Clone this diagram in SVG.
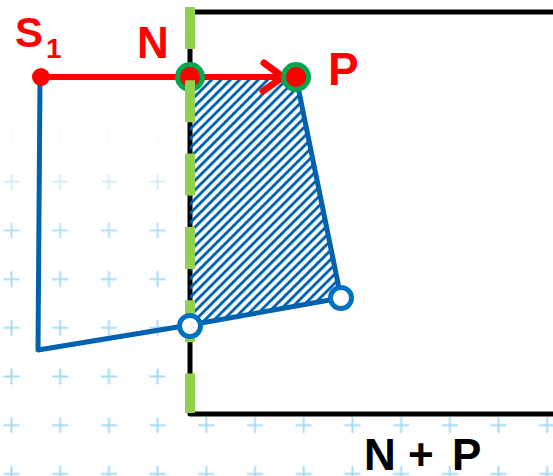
<svg xmlns="http://www.w3.org/2000/svg" width="553" height="476" viewBox="0 0 553 476">
<style>
.lbl{font-family:"Liberation Sans",Arial,sans-serif;font-weight:bold}
.red{fill:#FF0000}
.blue{fill:none;stroke:#0062AE;stroke-width:5;stroke-linejoin:round}
.open{fill:#FFFFFF;stroke:#0070C0;stroke-width:5}
.pt{fill:#FF0000;stroke:#00A650;stroke-width:5}
</style>
<defs>
<pattern id="grid" patternUnits="userSpaceOnUse" x="-12.85" y="108.65" width="48.7" height="48.7">
<path d="M16.35 24.35H32.35M24.35 16.35V32.35" stroke="#A6DBF5" stroke-width="2"/>
</pattern>
<linearGradient id="fade" gradientUnits="userSpaceOnUse" x1="0" y1="120" x2="0" y2="250">
<stop offset="0" stop-color="#fff" stop-opacity="0"/>
<stop offset="1" stop-color="#fff" stop-opacity="1"/>
</linearGradient>
<mask id="m" maskUnits="userSpaceOnUse" x="0" y="0" width="553" height="476">
<rect width="553" height="476" fill="url(#fade)"/>
</mask>
<pattern id="hatch" patternUnits="userSpaceOnUse" width="6.6" height="6.6" patternTransform="rotate(45)">
<line x1="1.5" y1="0" x2="1.5" y2="6.6" stroke="#0062AE" stroke-width="2.9"/>
</pattern>
</defs>
<rect width="553" height="476" fill="#FFFFFF"/>
<rect width="553" height="476" fill="url(#grid)" mask="url(#m)"/>
<g id="region">
<rect x="190" y="12" width="380" height="402" fill="#FFFFFF" stroke="#000000" stroke-width="5" stroke-linejoin="round"/>
</g>
<g id="hatched">
<polygon points="190,77 296,77 341,298 190,325" fill="url(#hatch)"/>
</g>
<g id="connectors">
<path class="blue" d="M40 77L38 350L190 325L341 298L296 77"/>
<line x1="40" y1="77" x2="290" y2="77" stroke="#FF0000" stroke-width="6"/>
<path d="M264 63L283 77L263 91" fill="none" stroke="#FF0000" stroke-width="7" stroke-linecap="round" stroke-linejoin="round"/>
</g>
<g id="S1">
<circle cx="41" cy="77" r="9" fill="#FF0000"/>
<text class="lbl red" x="15" y="47" font-size="42">S</text>
<text class="lbl red" x="46" y="58" font-size="28">1</text>
</g>
<g id="N">
<circle class="pt" cx="190" cy="77" r="12.5"/>
<text class="lbl red" x="137" y="58" font-size="44">N</text>
</g>
<g id="P">
<circle class="pt" cx="296" cy="77" r="12.5"/>
<text class="lbl red" x="328" y="85" font-size="46">P</text>
</g>
<g id="boundary">
<line x1="190" y1="7" x2="190" y2="413" stroke="#92D050" stroke-width="10" stroke-dasharray="42 31.3"/>
</g>
<g id="Q1">
<circle class="open" cx="190" cy="326" r="10.5"/>
</g>
<g id="Q2">
<circle class="open" cx="341" cy="298" r="10.5"/>
</g>
<g id="NP">
<text class="lbl" y="470" font-size="44" fill="#000000"><tspan x="364">N</tspan><tspan x="408">+</tspan><tspan x="452">P</tspan></text>
</g>
</svg>
